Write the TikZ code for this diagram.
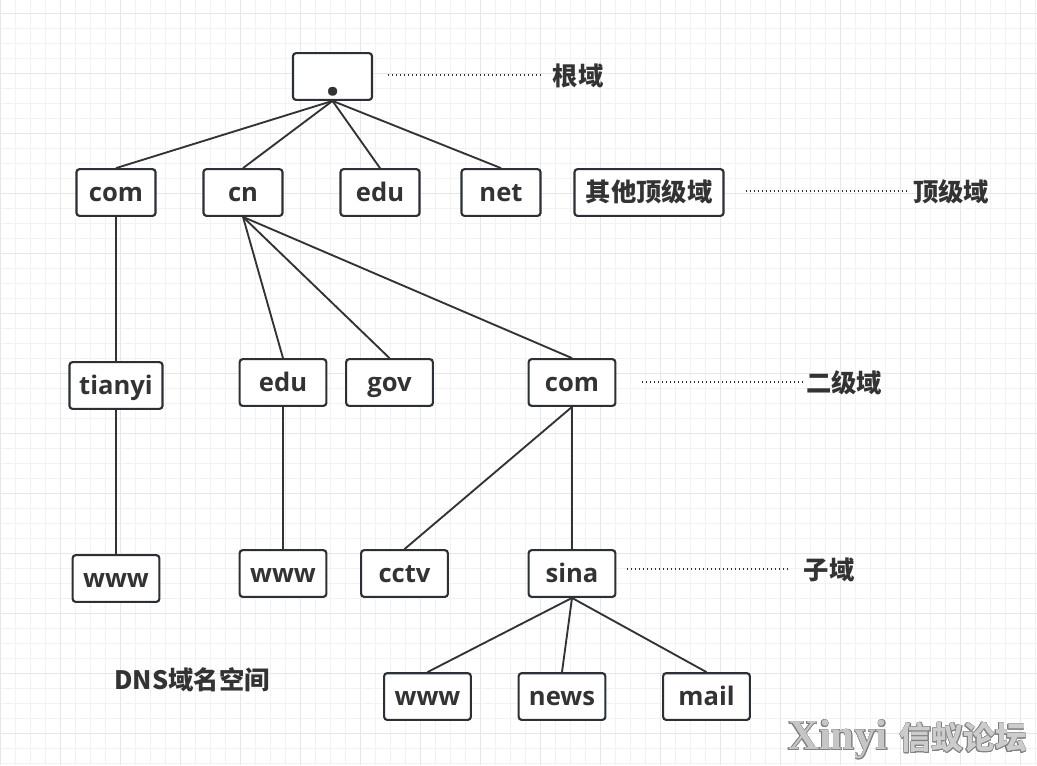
\documentclass[tikz,border=0pt]{standalone}
\usepackage{fontspec}
\usepackage{contour}
\setmainfont{Open Sans}
\newfontfamily\cjk{Noto Sans CJK SC}
\newfontfamily\wmfont{Liberation Serif}
\definecolor{inkdark}{HTML}{2B2F36}
\definecolor{textdark}{HTML}{333333}
\definecolor{gridminor}{HTML}{F2F2F2}
\definecolor{gridmajor}{HTML}{E7E7E7}
\contourlength{0.4pt}

\begin{document}
\begin{tikzpicture}[x=0.75pt,y=-0.75pt]
      \tikzstyle{dnsbox}=[draw=inkdark,fill=white,line width=1.6pt,rounded corners=2.2pt,inner sep=0pt,minimum width=59.25pt,minimum height=35pt,text height=15.9pt,text depth=2.1pt,text=textdark,font=\fontsize{19.2}{20}\selectfont\bfseries]
      \tikzstyle{wide}=[dnsbox,minimum width=65pt]
      \tikzstyle{link}=[draw=textdark,line width=1.4pt]
      \tikzstyle{leader}=[draw=textdark,line width=1pt,dash pattern=on 1pt off 2pt]
      \tikzstyle{level}=[inner sep=0pt,text height=16pt,text depth=0pt,text=textdark,font=\fontsize{19}{20}\selectfont\bfseries\cjk]
      \useasboundingbox (0,0) rectangle (1037,765);
      %%% grid
      \foreach \x in {0,15,...,1035} \draw[gridminor,line width=0.75pt] (\x+0.7,0) -- (\x+0.7,765);
      \foreach \y in {13,28,...,763} \draw[gridminor,line width=0.75pt] (0,\y) -- (1037,\y);
      \foreach \x in {0,60,...,1020} \draw[gridmajor,line width=0.75pt] (\x+0.7,0) -- (\x+0.7,765);
      \foreach \y in {13,73,...,763} \draw[gridmajor,line width=0.75pt] (0,\y) -- (1037,\y);
      %%% root and top level
      \node (root) at (332.5,76.5) [dnsbox,text height=31.6pt,text depth=2.4pt,font=\fontsize{40}{40}\selectfont\bfseries] {\hspace*{1pt}.};
      \node (com) at (116,192.5) [dnsbox] {com};
      \node (cn) at (243,192.5) [dnsbox] {cn};
      \node (edu) at (380,192.5) [dnsbox] {edu};
      \node (net) at (501,192.5) [dnsbox] {net};
      \node (other) at (649,192.5) [dnsbox,minimum width=111.75pt,font=\fontsize{19}{20}\selectfont\bfseries\cjk] {其他顶级域};
      %%% second level
      \node (tianyi) at (116,385.5) [dnsbox,minimum width=69.75pt] {tianyi};
      \node (eduii) at (283,382.5) [wide] {edu};
      \node (gov) at (389.5,382.5) [wide] {gov};
      \node (comii) at (572,382.5) [wide] {com};
      %%% sub domains
      \node (wwwi) at (116,578.5) [wide] {www};
      \node (wwwii) at (283,573.5) [wide] {www};
      \node (cctv) at (404.5,573.5) [wide] {cctv};
      \node (sina) at (572,573.5) [wide] {sina};
      \node (wwwiii) at (427.5,696.5) [wide] {www};
      \node (news) at (562,696.5) [wide] {news};
      \node (mail) at (706.5,696.5) [wide] {mail};
      %%% level names
      \node (rootname) at (578,75) [level] {根域};
      \node (topname) at (951,191) [level] {顶级域};
      \node (secondname) at (844,382) [level] {二级域};
      \node (subname) at (829,569) [level] {子域};
      \node (title) at (192,679) [level] {DNS域名空间};
      %%% tree
      \foreach \child in {com,cn,edu,net} \draw[link] (root.south) -- (\child.north);
      \draw[link] (com.south) -- (tianyi.north);
      \draw[link] (tianyi.south) -- (wwwi.north);
      \foreach \child in {eduii,gov,comii} \draw[link] (cn.south) -- (\child.north);
      \draw[link] (eduii.south) -- (wwwii.north);
      \foreach \child in {cctv,sina} \draw[link] (comii.south) -- (\child.north);
      \foreach \child in {wwwiii,news,mail} \draw[link] (sina.south) -- (\child.north);
      %%% dotted leaders
      \draw[leader,shorten <=11pt,shorten >=9pt] (root.east |- rootname.west) -- (rootname.west);
      \draw[leader,shorten <=16pt,shorten >=3pt] (other.east |- topname.west) -- (topname.west);
      \draw[leader,shorten <=19pt,shorten >=2pt] (comii.east |- secondname.west) -- (secondname.west);
      \draw[leader,shorten <=8pt,shorten >=11pt] (sina.east |- subname.west) -- (subname.west);
      %%% watermark
      \node (mark) at (907.5,740) [inner sep=0pt,font=\bfseries] {\contour{gray}{\textcolor{gray!45}{\fontsize{32}{32}\selectfont\wmfont Xinyi}}\hspace{9pt}\contour{gray}{\textcolor{gray!40}{\fontsize{23.8}{24}\selectfont\cjk 信蚁论坛}}};
\end{tikzpicture}
\end{document}
